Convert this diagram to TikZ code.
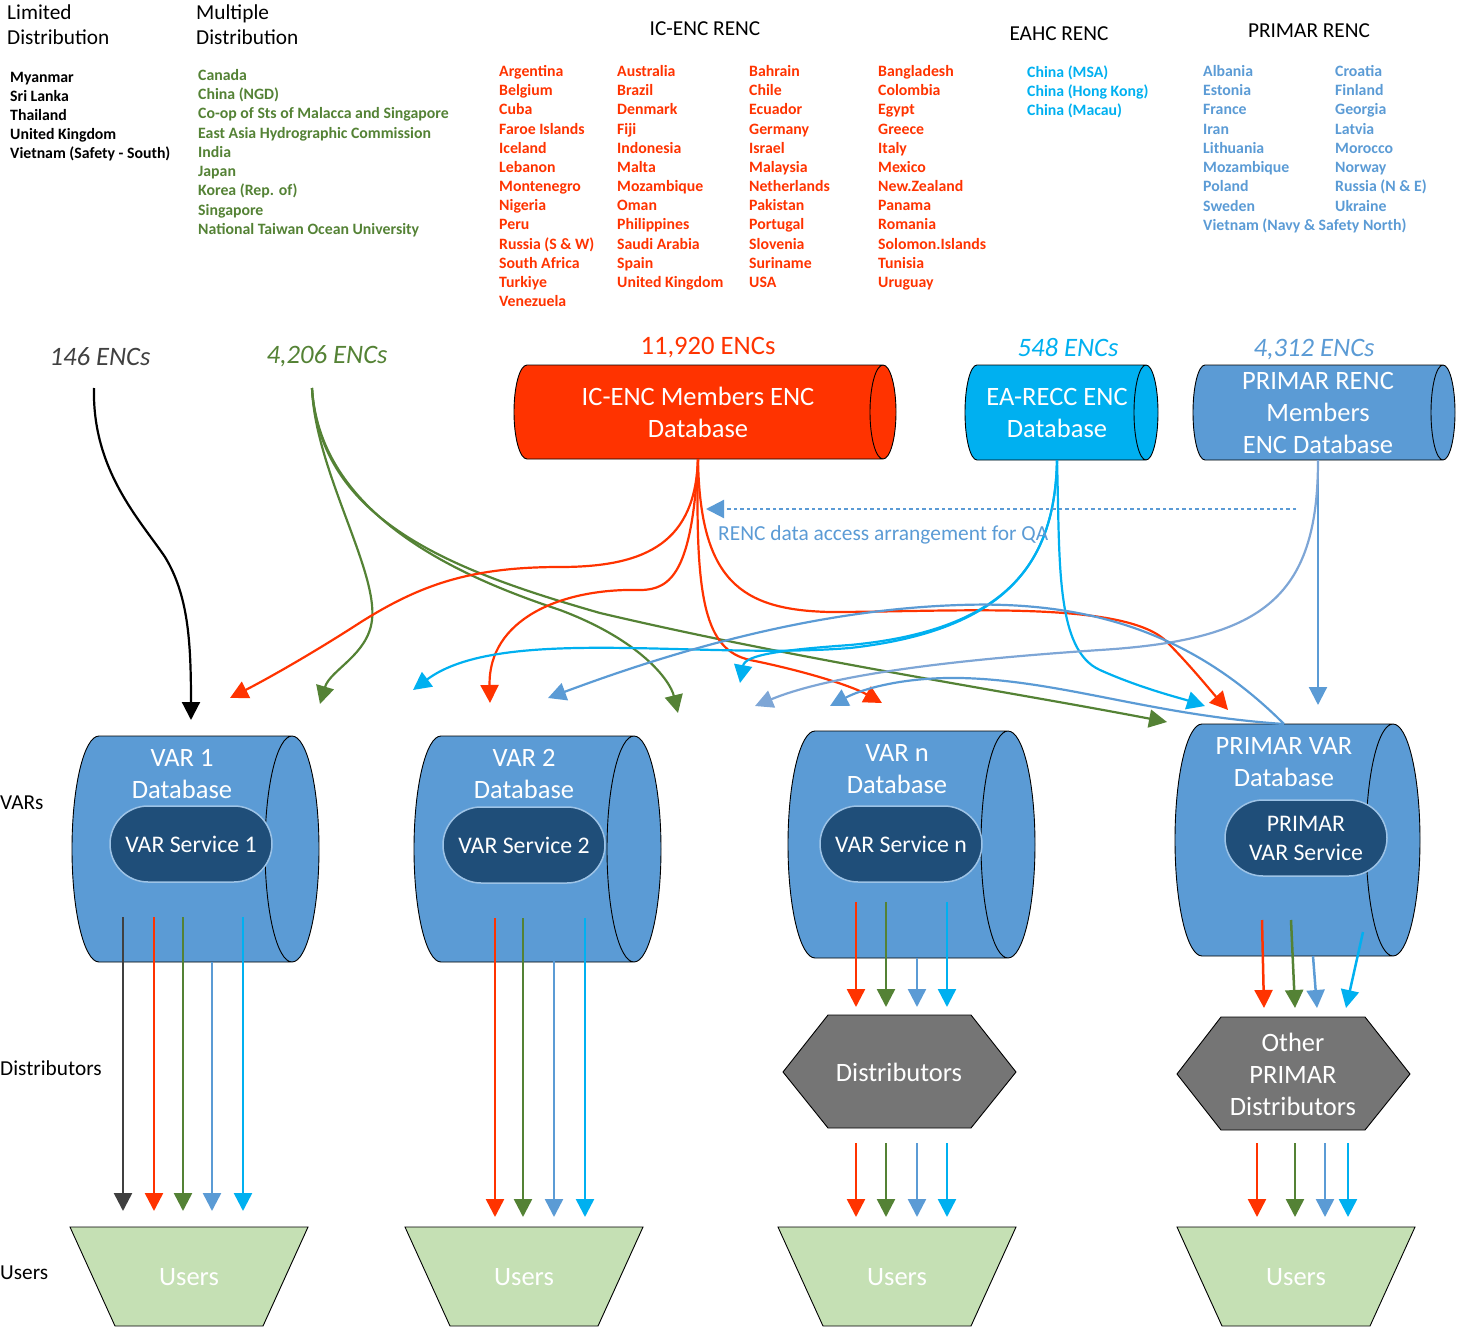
\documentclass[tikz,border=0pt]{standalone}
\usepackage{fontspec}
\setmainfont{Carlito}
\usetikzlibrary{arrows.meta}

\definecolor{encred}{HTML}{FF3300}
\definecolor{encgreen}{HTML}{548235}
\definecolor{enccyan}{HTML}{00B0F0}
\definecolor{encblue}{HTML}{5B9BD5}
\definecolor{encpale}{HTML}{7EA6D6}
\definecolor{encgray}{HTML}{404040}
\definecolor{svcfill}{HTML}{1F4E79}
\definecolor{svcline}{HTML}{9DC3E6}
\definecolor{distfill}{HTML}{757575}
\definecolor{userfill}{HTML}{C5E0B4}

\tikzset{
  flow/.style={line width=2.5pt, -{Triangle[width=18pt,length=18pt]}},
  curvefeed/.style={line width=2.2pt, -{Triangle[width=18pt,length=18pt]}},
  listtext/.style={anchor=base west, inner sep=0pt, font=\fontsize{15.8}{18}\selectfont\bfseries},
  headtext/.style={anchor=base west, inner sep=0pt, font=\fontsize{21.3}{25}\selectfont},
  counttext/.style={inner sep=0pt, font=\fontsize{26.6}{30}\selectfont},
  dbtext/.style={text=white, align=center, inner sep=0pt, font=\fontsize{26.5}{32}\selectfont},
  service/.style={fill=svcfill, draw=svcline, line width=1.5pt, text=white, align=center,
    minimum width=162pt, minimum height=76pt, rounded corners=38pt, inner sep=0pt,
    font=\fontsize{23.8}{29}\selectfont},
  shapeline/.style={draw=black, line width=0.9pt}
}

% horizontal drum: x1, x2, y1, y2, end radius, fill
\newcommand{\dbcyl}[6]{%
  \fill[#6] (#1,#3) -- (#2,#3) arc[start angle=-90, end angle=90, x radius=#5, y radius={(#4-#3)/2}]
    -- (#1,#4) arc[start angle=90, end angle=270, x radius=#5, y radius={(#4-#3)/2}] -- cycle;
  \draw[shapeline] (#1,#3) -- (#2,#3) (#1,#4) -- (#2,#4)
    (#1,#4) arc[start angle=90, end angle=270, x radius=#5, y radius={(#4-#3)/2}]
    (#2,{(#3+#4)/2}) ellipse[x radius=#5, y radius={(#4-#3)/2}];
}

\begin{document}
\begin{tikzpicture}[x=1pt,y=-1pt]
\useasboundingbox (0,0) rectangle (1460,1327);

% headings
\node[headtext] at (7,20) {Limited};
\node[headtext] at (7,45) {Distribution};
\node[headtext] at (196,20) {Multiple};
\node[headtext] at (196,45) {Distribution};
\node[headtext, anchor=base] at (705,36) {IC-ENC RENC};
\node[headtext, anchor=base] at (1059,41) {EAHC RENC};
\node[headtext, anchor=base] at (1309,38) {PRIMAR RENC};

% member lists
\foreach \n [count=\i from 0] in {Myanmar,Sri Lanka,Thailand,United Kingdom,{Vietnam (Safety - South)}}
  \node[listtext] at (10,{82.5+19*\i}) {\n};
\foreach \n [count=\i from 0] in {Canada,{China (NGD)},Co-op of Sts of Malacca and Singapore,East Asia Hydrographic Commission,India,Japan,{Korea (Rep. of)},Singapore,National Taiwan Ocean University}
  \node[listtext, encgreen] at (198,{80.5+19.25*\i}) {\n};
\foreach \n [count=\i from 0] in {Argentina,Belgium,Cuba,Faroe Islands,Iceland,Lebanon,Montenegro,Nigeria,Peru,{Russia (S \& W)},South Africa,Turkiye,Venezuela}
  \node[listtext, encred] at (499,{76.5+19.17*\i}) {\n};
\foreach \n [count=\i from 0] in {Australia,Brazil,Denmark,Fiji,Indonesia,Malta,Mozambique,Oman,Philippines,Saudi Arabia,Spain,United Kingdom}
  \node[listtext, encred] at (617,{76.5+19.17*\i}) {\n};
\foreach \n [count=\i from 0] in {Bahrain,Chile,Ecuador,Germany,Israel,Malaysia,Netherlands,Pakistan,Portugal,Slovenia,Suriname,USA}
  \node[listtext, encred] at (749,{76.5+19.17*\i}) {\n};
\foreach \n [count=\i from 0] in {Bangladesh,Colombia,Egypt,Greece,Italy,Mexico,New.Zealand,Panama,Romania,Solomon.Islands,Tunisia,Uruguay}
  \node[listtext, encred] at (878,{76.5+19.17*\i}) {\n};
\foreach \n [count=\i from 0] in {{China (MSA)},{China (Hong Kong)},{China (Macau)}}
  \node[listtext, enccyan] at (1027,{77.5+19.25*\i}) {\n};
\foreach \n [count=\i from 0] in {Albania,Estonia,France,Iran,Lithuania,Mozambique,Poland,Sweden,{Vietnam (Navy \& Safety North)}}
  \node[listtext, encblue] at (1203,{76.5+19.25*\i}) {\n};
\foreach \n [count=\i from 0] in {Croatia,Finland,Georgia,Latvia,Morocco,Norway,{Russia (N \& E)},Ukraine}
  \node[listtext, encblue] at (1335,{76.5+19.25*\i}) {\n};

% ENC counts
\node[counttext, encgray, font=\fontsize{26.6}{30}\selectfont\itshape] at (100,357) {146 ENCs};
\node[counttext, encgreen, font=\fontsize{26.6}{30}\selectfont\itshape] at (327,356) {4,206 ENCs};
\node[counttext, encred] at (708,348) {11,920 ENCs};
\node[counttext, enccyan, font=\fontsize{26.6}{30}\selectfont\itshape] at (1068,348) {548 ENCs};
\node[counttext, encblue, font=\fontsize{26.6}{30}\selectfont\itshape] at (1314,350) {4,312 ENCs};

% RENC databases
\dbcyl{527}{883}{365}{459}{13}{encred}
\dbcyl{977}{1146}{365}{460}{12}{enccyan}
\dbcyl{1205}{1443}{365}{460}{12}{encblue}
\node[dbtext, minimum height=94pt] (icenc) at (698,412) {IC-ENC Members ENC\\Database};
\node[dbtext, minimum height=95pt] (eahc) at (1057,412.5) {EA-RECC ENC\\Database};
\node[dbtext, minimum height=95pt] (primar) at (1318,412.5) {PRIMAR RENC\\Members\\ENC Database};

% VAR databases
\dbcyl{99}{292}{736}{962}{27}{encblue}
\dbcyl{441}{634}{736}{962}{27}{encblue}
\dbcyl{815}{1008}{731}{958}{27}{encblue}
\dbcyl{1202}{1393}{724}{956}{27}{encblue}
\node[dbtext] (var1) at (182,774) {VAR 1\\Database};
\node[dbtext] (var2) at (524,774) {VAR 2\\Database};
\node[dbtext] (varn) at (897,769) {VAR n\\Database};
\node[dbtext] (pvar) at (1284,762) {PRIMAR VAR\\Database};
\node[service] (svc1) at (191,844) {VAR Service 1};
\node[service] (svc2) at (524,845) {VAR Service 2};
\node[service] (svcn) at (901,844) {VAR Service n};
\node[service] (svcp) at (1306,838) {PRIMAR\\VAR Service};

% distributors
\filldraw[fill=distfill, shapeline] (783,1072) -- (828,1015) -- (971,1015) -- (1016,1072) -- (971,1128) -- (828,1128) -- cycle;
\filldraw[fill=distfill, shapeline] (1177,1074) -- (1221,1017) -- (1365,1017) -- (1410,1074) -- (1365,1130) -- (1221,1130) -- cycle;
\node[dbtext] (distn) at (899,1072) {Distributors};
\node[dbtext] (distp) at (1293,1074) {Other\\PRIMAR\\Distributors};

% users
\foreach \x/\nm in {70/users1,405/users2,778/usersn,1177/usersp}
{ \filldraw[fill=userfill, shapeline] (\x,1227) -- ({\x+238},1227) -- ({\x+193},1326) -- ({\x+45},1326) -- cycle;
  \node[dbtext] (\nm) at ({\x+119},1277) {Users};
}

% row labels
\node[headtext] at (0,809) {VARs};
\node[headtext] at (0,1075) {Distributors};
\node[headtext] at (0,1279) {Users};

% flows inside the VAR columns
\foreach \x/\c/\y in {123/encgray/917,154/encred/917,183/encgreen/917,212/encblue/962,243/enccyan/917}
  \draw[flow,\c] (\x,\y) -- (\x,1211);
\foreach \x/\c in {495/encred,523/encgreen,554/encblue,585/enccyan}
  \draw[flow,\c] (\x,918) -- (\x,1217);
\foreach \x/\c/\y in {856/encred/902,886/encgreen/902,917/encblue/958,947/enccyan/902}
  \draw[flow,\c] (\x,\y) -- (\x,1007);
\foreach \x/\c in {856/encred,886/encgreen,917/encblue,947/enccyan}
  \draw[flow,\c] (\x,1143) -- (\x,1217);
\draw[flow,encred] (1262,920) -- (1264,1008);
\draw[flow,encgreen] (1291,920) -- (1295,1008);
\draw[flow,encblue] (1313,956) -- (1317,1008);
\draw[flow,enccyan] (1363,932) -- (1346,1008);
\foreach \x/\c in {1257/encred,1295/encgreen,1325/encblue,1348/enccyan}
  \draw[flow,\c] (\x,1143) -- (\x,1217);

% feeds from the RENCs
\coordinate (limited) at (94,388);
\coordinate (multiple) at (312,388);
\coordinate (pvartop) at (1284,724);

\draw[curvefeed,black] (limited) .. controls (92,470) and (140,520) .. (165,557) .. controls (188,595) and (191,640) .. (191,720);

\draw[curvefeed,encgreen] (multiple) .. controls (315,470) and (378,570) .. (372,620) .. controls (368,655) and (330,670) .. (320,704);
\draw[curvefeed,encgreen] (multiple) .. controls (320,520) and (470,580) .. (560,610) .. controls (640,640) and (670,680) .. (678,713);
\draw[curvefeed,encgreen] (multiple) .. controls (320,520) and (450,570) .. (600,613) .. controls (800,660) and (1000,690) .. (1167,722);

\draw[curvefeed,encred] (icenc.south) .. controls (695,540) and (650,567) .. (560,567) .. controls (470,567) and (420,585) .. (361,622) .. controls (310,655) and (265,680) .. (230,698);
\draw[curvefeed,encred] (icenc.south) .. controls (692,570) and (672,590) .. (640,590) .. controls (560,588) and (488,620) .. (490,703);
\draw[curvefeed,encred] (icenc.south) .. controls (695,600) and (705,650) .. (750,660) .. controls (800,670) and (850,685) .. (882,703);
\draw[curvefeed,encred] (icenc.south) .. controls (700,580) and (740,610) .. (830,612) .. controls (950,612) and (1120,600) .. (1165,640) .. controls (1190,665) and (1210,690) .. (1228,710);

\draw[curvefeed,enccyan] (eahc.south) .. controls (1055,560) and (1010,630) .. (850,648) .. controls (700,660) and (500,625) .. (413,690);
\draw[curvefeed,enccyan] (eahc.south) .. controls (1055,560) and (1010,630) .. (850,645) .. controls (780,650) and (745,655) .. (740,683);
\draw[curvefeed,enccyan] (eahc.south) .. controls (1060,560) and (1055,650) .. (1100,670) .. controls (1140,688) and (1180,698) .. (1205,706);

\draw[curvefeed,encblue] (primar.south) -- (1318,705);
\draw[curvefeed,encpale] (primar.south) .. controls (1318,600) and (1260,640) .. (1100,650) .. controls (950,660) and (830,675) .. (755,706);
\draw[curvefeed,encblue] (pvartop) .. controls (1200,640) and (1100,600) .. (960,605) .. controls (800,610) and (650,660) .. (548,698);
\draw[curvefeed,encblue] (pvartop) .. controls (1150,715) and (1060,680) .. (960,678) .. controls (900,677) and (860,690) .. (830,706);

% QA access
\coordinate (qaend) at (1296,509);
\draw[curvefeed,encblue,dash pattern=on 3.5pt off 3pt] (qaend) -- (706,509);
\node[anchor=base west, inner sep=0pt, text=encblue, font=\fontsize{21.4}{25}\selectfont] (qa) at (718,540) {RENC data access arrangement for QA};
\end{tikzpicture}
\end{document}
